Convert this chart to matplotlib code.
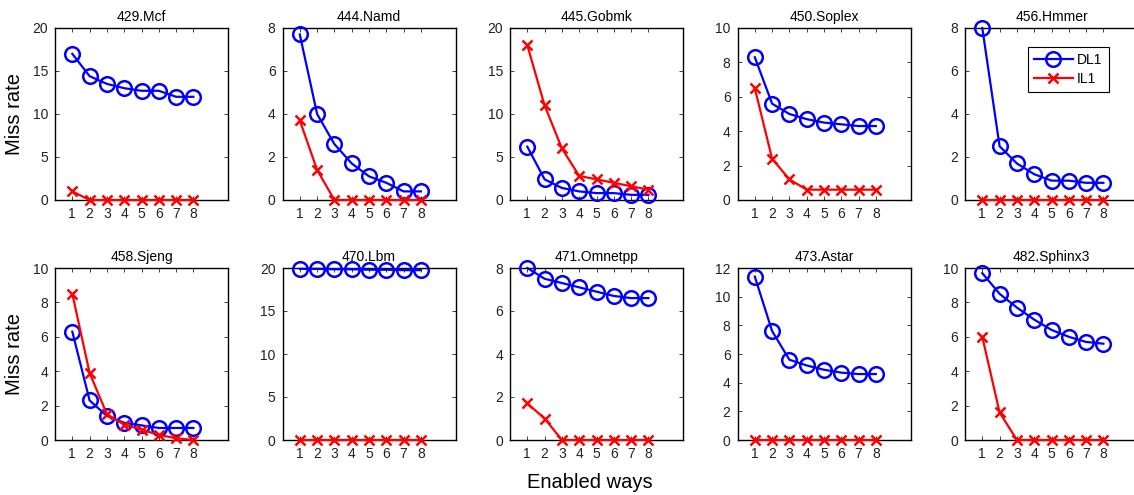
import matplotlib
matplotlib.use('Agg')
import matplotlib.pyplot as plt

plt.rcParams['font.family'] = ['Liberation Sans', 'DejaVu Sans']

ways = [1, 2, 3, 4, 5, 6, 7, 8]

names = ['429.Mcf', '444.Namd', '445.Gobmk', '450.Soplex', '456.Hmmer',
         '458.Sjeng', '470.Lbm', '471.Omnetpp', '473.Astar', '482.Sphinx3']

dl1 = [
    [17.0, 14.4, 13.5, 13.0, 12.7, 12.7, 12.0, 12.0],
    [7.7, 4.0, 2.6, 1.7, 1.1, 0.8, 0.4, 0.4],
    [6.2, 2.4, 1.4, 1.0, 0.8, 0.8, 0.6, 0.6],
    [8.3, 5.6, 5.0, 4.7, 4.5, 4.4, 4.3, 4.3],
    [8.0, 2.5, 1.7, 1.2, 0.9, 0.9, 0.8, 0.8],
    [6.3, 2.3, 1.4, 1.0, 0.85, 0.7, 0.7, 0.7],
    [19.9, 19.9, 19.85, 19.85, 19.8, 19.8, 19.75, 19.75],
    [8.0, 7.5, 7.3, 7.1, 6.9, 6.7, 6.6, 6.6],
    [11.4, 7.6, 5.6, 5.2, 4.9, 4.7, 4.6, 4.6],
    [9.7, 8.5, 7.7, 7.0, 6.4, 6.0, 5.7, 5.6],
]

il1 = [
    [1.0, 0, 0, 0, 0, 0, 0, 0],
    [3.7, 1.4, 0, 0, 0, 0, 0, 0],
    [18.0, 11.0, 6.0, 2.8, 2.4, 2.0, 1.6, 1.2],
    [6.5, 2.4, 1.2, 0.6, 0.6, 0.6, 0.6, 0.6],
    [0, 0, 0, 0, 0, 0, 0, 0],
    [8.5, 3.9, 1.5, 0.9, 0.6, 0.3, 0.1, 0.0],
    [0, 0, 0, 0, 0, 0, 0, 0],
    [1.7, 1.0, 0, 0, 0, 0, 0, 0],
    [0, 0, 0, 0, 0, 0, 0, 0],
    [6.0, 1.6, 0, 0, 0, 0, 0, 0],
]

ymax = [20, 8, 20, 10, 8, 10, 20, 8, 12, 10]
ystep = [5, 2, 5, 2, 2, 2, 5, 2, 2, 2]

fig = plt.figure(figsize=(11.34, 4.95), dpi=100)

W, H = 1134, 495
for i in range(10):
    row, col = divmod(i, 5)
    left = 55 + col * 227.5
    top = 28 if row == 0 else 268
    ax = fig.add_axes([left / W, 1 - (top + 172) / H, 173 / W, 172 / H])
    ax.plot(ways, dl1[i], color='#0000ff', lw=1.6, marker='o', ms=10.5,
            mfc='none', mew=1.8, label='DL1', clip_on=False, zorder=3)
    ax.plot(ways, il1[i], color='#ff0000', lw=1.6, marker='x', ms=7,
            mew=1.8, label='IL1', clip_on=False, zorder=4)
    ax.set_xlim(0, 10)
    ax.set_ylim(0, ymax[i])
    ax.set_xticks(ways)
    ax.set_yticks(range(0, ymax[i] + 1, ystep[i]))
    ax.tick_params(direction='in', top=True, right=True, labelsize=10,
                   length=3, width=0.6, pad=5, colors='#222222')
    for s in ax.spines.values():
        s.set_linewidth(1.0)
    ax.set_title(names[i], fontsize=10, pad=5)
    if col == 0:
        ax.set_ylabel('Miss rate', fontsize=14.5, labelpad=6)
    if i == 4:
        leg = ax.legend(loc='upper right', bbox_to_anchor=(0.83, 0.89),
                        fontsize=10, fancybox=False, edgecolor='black',
                        framealpha=1, handlelength=2.8, borderpad=0.45,
                        labelspacing=0.35, handletextpad=0.3, borderaxespad=0)
        leg.get_frame().set_linewidth(0.8)

fig.text(590 / W, 1 - 483 / H, 'Enabled ways', ha='center', va='center', fontsize=14.5)

fig.savefig('out.png', dpi=100)
